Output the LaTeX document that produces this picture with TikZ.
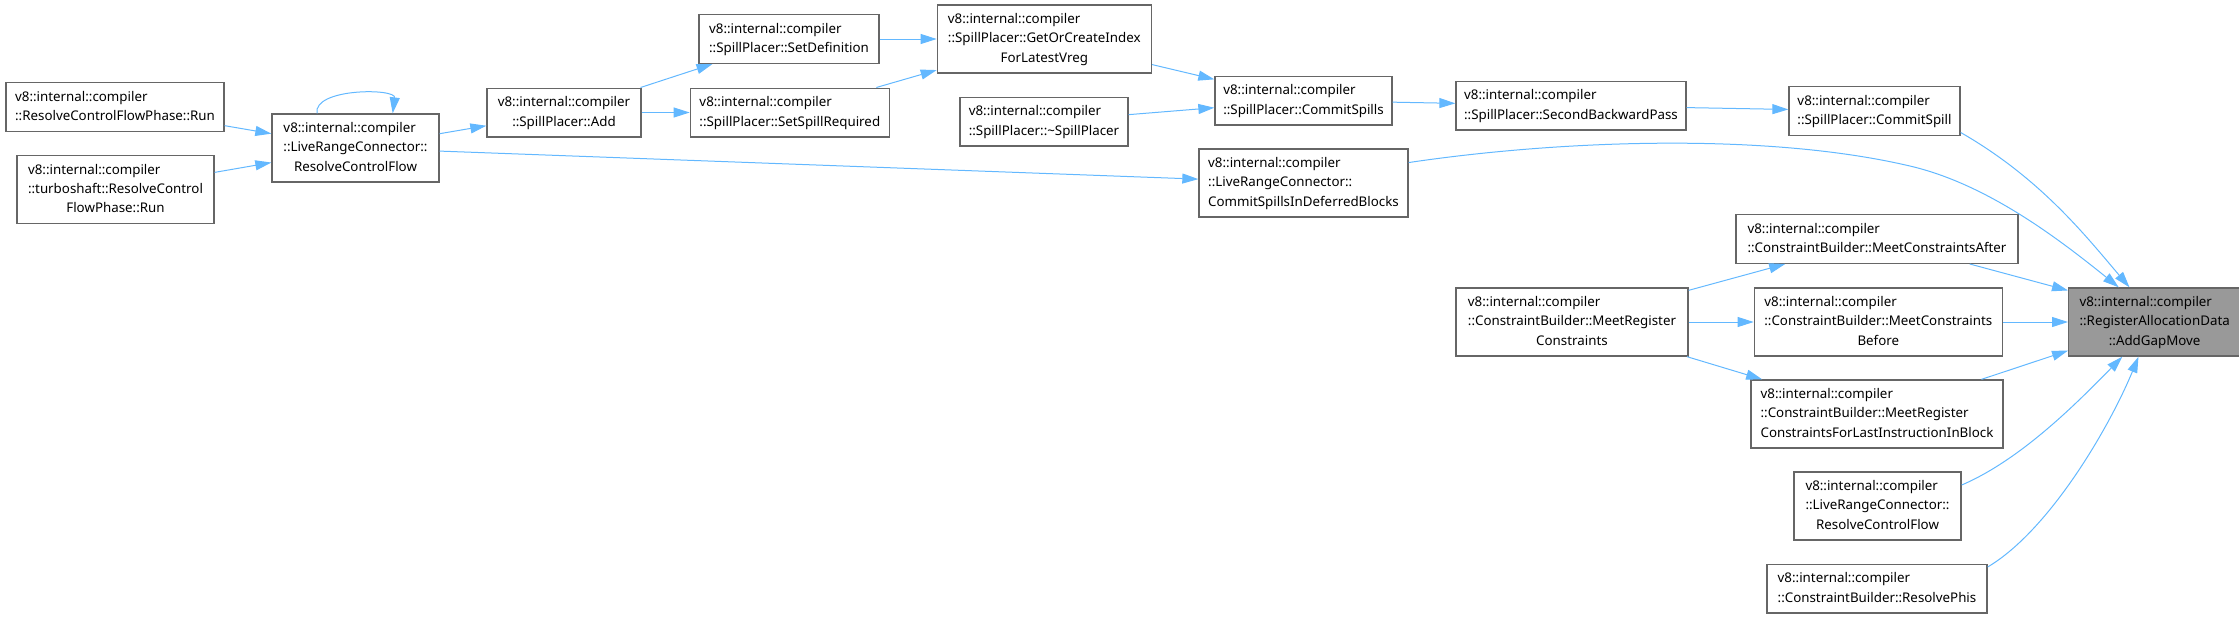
\documentclass[tikz,border=0pt]{standalone}
\usepackage{fontspec}
\setmainfont{Noto Sans}
\usepackage{xcolor}
\usetikzlibrary{arrows.meta,positioning}
\definecolor{edgeblue}{HTML}{63B8FF}
\definecolor{boxgray}{HTML}{666666}
\definecolor{hlgray}{HTML}{999999}
\newcommand{\fnlbl}[2]{\begin{tabular}{@{}l@{}}#1\\\multicolumn{1}{@{}c@{}}{#2}\end{tabular}}

\begin{document}
\begin{tikzpicture}[x=0.75pt, y=-0.75pt,
  font=\fontsize{10}{14.5}\selectfont, >={Triangle[length=12pt,width=7.5pt]},
  fn/.style={draw=boxgray,line width=1pt,fill=white,inner sep=0pt,minimum height=36.5pt},
  fn3/.style={fn,minimum height=51pt},
  hl/.style={fn3,fill=hlgray},
  call/.style={->,edgeblue,line width=0.75pt}]
\useasboundingbox (0,0) rectangle (2239,618);
% callers on the left
\node[fn,minimum width=163.5pt] (rcfp) at (115,107) {\fnlbl{v8::internal::compiler}{::ResolveControlFlowPhase::Run}};
\node[fn3,minimum width=147.75pt] (tsrcfp) at (115.5,189.5) {\fnlbl{v8::internal::compiler\\::turboshaft::ResolveControl}{FlowPhase::Run}};
\node[fn3,minimum width=125.25pt] (lrcrcf) at (355.5,148) {\fnlbl{v8::internal::compiler\\::LiveRangeConnector::}{ResolveControlFlow}};
% SpillPlacer chain
\node[fn,minimum width=115.5pt] (spadd) at (564,112.5) {\fnlbl{v8::internal::compiler}{::SpillPlacer::Add}};
\node[fn,minimum width=135pt] (spsetdef) at (789,39) {\fnlbl{v8::internal::compiler}{::SpillPlacer::SetDefinition}};
\node[fn,minimum width=149.25pt,right=36pt of spadd] (spsetreq) {\fnlbl{v8::internal::compiler}{::SpillPlacer::SetSpillRequired}};
\node[fn3,minimum width=160.5pt,right=42.75pt of spsetdef] (spgetidx) {\fnlbl{v8::internal::compiler\\::SpillPlacer::GetOrCreateIndex}{ForLatestVreg}};
\node[fn,minimum width=126pt] (spdtor) at (1044,121.5) {\fnlbl{v8::internal::compiler}{::SpillPlacer::\textasciitilde SpillPlacer}};
\node[fn,minimum width=132.75pt] (spcommits) at (1303.5,100.5) {\fnlbl{v8::internal::compiler}{::SpillPlacer::CommitSpills}};
\node[fn,minimum width=172.5pt] (spsbp) at (1571,105.5) {\fnlbl{v8::internal::compiler}{::SpillPlacer::SecondBackwardPass}};
\node[fn,minimum width=128.25pt] (spcommit) at (1874.5,111) {\fnlbl{v8::internal::compiler}{::SpillPlacer::CommitSpill}};
\node[fn3,minimum width=156.75pt] (lrccsidb) at (1303.5,183) {\fnlbl{v8::internal::compiler\\::LiveRangeConnector::}{CommitSpillsInDeferredBlocks}};
% ConstraintBuilder callers
\node[fn,minimum width=211.5pt] (cbmca) at (1877,239) {\fnlbl{v8::internal::compiler}{::ConstraintBuilder::MeetConstraintsAfter}};
\node[fn3,minimum width=174pt] (cbmrc) at (1572,322) {\fnlbl{v8::internal::compiler\\::ConstraintBuilder::MeetRegister}{Constraints}};
\node[fn3,minimum width=186pt,right=48.75pt of cbmrc] (cbmcb) {\fnlbl{v8::internal::compiler\\::ConstraintBuilder::MeetConstraints}{Before}};
\node[hl,minimum width=129pt,right=48.75pt of cbmcb] (agm) {\fnlbl{v8::internal::compiler\\::RegisterAllocationData}{::AddGapMove}};
\node[fn3,minimum width=189pt] (cbmrcl) at (1877,414) {\fnlbl{v8::internal::compiler\\::ConstraintBuilder::MeetRegister}{ConstraintsForLastInstructionInBlock}};
\node[fn3,minimum width=125.25pt] (lrcrcf2) at (1877.5,506) {\fnlbl{v8::internal::compiler\\::LiveRangeConnector::}{ResolveControlFlow}};
\node[fn,minimum width=165pt] (cbrp) at (1877,588.5) {\fnlbl{v8::internal::compiler}{::ConstraintBuilder::ResolvePhis}};
% edges
\draw[call] (rcfp) -- (lrcrcf);
\draw[call] (tsrcfp) -- (lrcrcf);
\draw[call] (lrcrcf.138) .. controls (313,88) and (396,88) .. (lrcrcf.43);
\draw[call] (lrcrcf) -- (spadd);
\draw[call] (lrcrcf) -- (lrccsidb);
\foreach \a/\b in {spadd/spsetdef,spadd/spsetreq,spsetdef/spgetidx,spsetreq/spgetidx,spgetidx/spcommits,spdtor/spcommits,spcommits/spsbp,spsbp/spcommit,cbmrc/cbmca,cbmrc/cbmcb,cbmrc/cbmrcl,cbmcb/agm,cbmrcl/agm} \draw[call] (\a) -- (\b);
\draw[call] (cbmca) -- (agm.160);
\draw[call] (spcommit.-14) .. controls (2040,178) and (2085,235) .. (agm.126);
\draw[call] (lrccsidb.11) .. controls (1560,140) and (1770,132) .. (1914,167) .. controls (1990,186) and (2060,240) .. (agm.136);
\draw[call] (lrcrcf2.14) .. controls (2020,460) and (2075,405) .. (agm.227);
\draw[call] (cbrp.11) .. controls (2050,530) and (2110,426) .. (agm.245);
\end{tikzpicture}
\end{document}
